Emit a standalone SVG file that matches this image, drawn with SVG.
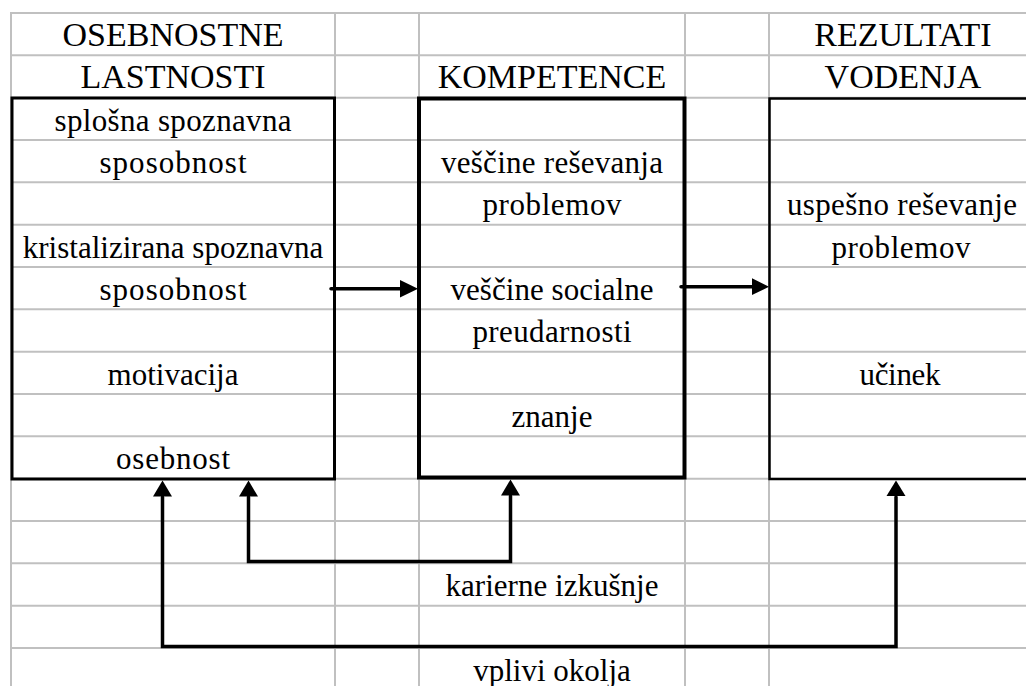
<svg xmlns="http://www.w3.org/2000/svg" width="1026" height="686" viewBox="0 0 1026 686">
<style>
.grid line{stroke:#c0c0c0;stroke-width:2}
.box{fill:none;stroke:#000}
text{font-family:"Liberation Serif","Times New Roman",serif;font-size:31px;fill:#000;text-anchor:middle}
text.cap{font-size:34px}
.conn path,.conn line{fill:none;stroke:#000;stroke-width:3.5;stroke-linecap:round;stroke-linejoin:miter}
.conn polygon{fill:#000;stroke:none}
</style>
<rect width="1026" height="686" fill="#fff"/>
<g class="grid">
<line x1="11" y1="13" x2="1026" y2="13"/>
<line x1="11" y1="55.33" x2="1026" y2="55.33"/>
<line x1="11" y1="97.67" x2="1026" y2="97.67"/>
<line x1="11" y1="140" x2="1026" y2="140"/>
<line x1="11" y1="182.33" x2="1026" y2="182.33"/>
<line x1="11" y1="224.67" x2="1026" y2="224.67"/>
<line x1="11" y1="267" x2="1026" y2="267"/>
<line x1="11" y1="309.33" x2="1026" y2="309.33"/>
<line x1="11" y1="351.67" x2="1026" y2="351.67"/>
<line x1="11" y1="394" x2="1026" y2="394"/>
<line x1="11" y1="436.33" x2="1026" y2="436.33"/>
<line x1="11" y1="478.67" x2="1026" y2="478.67"/>
<line x1="11" y1="521" x2="1026" y2="521"/>
<line x1="11" y1="563.33" x2="1026" y2="563.33"/>
<line x1="11" y1="605.67" x2="1026" y2="605.67"/>
<line x1="11" y1="648" x2="1026" y2="648"/>
<line x1="11" y1="12" x2="11" y2="686"/>
<line x1="335" y1="12" x2="335" y2="686"/>
<line x1="419" y1="12" x2="419" y2="686"/>
<line x1="685" y1="12" x2="685" y2="686"/>
<line x1="769" y1="12" x2="769" y2="686"/>
</g>
<g id="headers">
<text class="cap" x="173" y="45.8">OSEBNOSTNE</text>
<text class="cap" x="173" y="88.2">LASTNOSTI</text>
<text class="cap" x="552" y="88.2">KOMPETENCE</text>
<text class="cap" x="903" y="45.8">REZULTATI</text>
<text class="cap" x="903" y="88.2">VODENJA</text>
</g>
<g id="osebnostne-lastnosti">
<rect class="box" x="12" y="98" width="322.5" height="381" stroke-width="3"/>
<text x="173" y="130.5" textLength="237">splošna spoznavna</text>
<text x="173" y="172.8" textLength="147">sposobnost</text>
<text x="173" y="257.5">kristalizirana spoznavna</text>
<text x="173" y="299.8" textLength="147">sposobnost</text>
<text x="173" y="384.5">motivacija</text>
<text x="173" y="469.2" textLength="114">osebnost</text>
</g>
<g id="kompetence">
<rect class="box" x="419" y="98.5" width="265.5" height="379" stroke-width="4"/>
<text x="552" y="172.8" textLength="222">veščine reševanja</text>
<text x="552" y="215.2" textLength="139">problemov</text>
<text x="552" y="299.8" textLength="203">veščine socialne</text>
<text x="552" y="342.2" textLength="159">preudarnosti</text>
<text x="552" y="426.8">znanje</text>
</g>
<g id="rezultati-vodenja">
<path class="box" d="M1030 98.5H769.5V479H1030" stroke-width="2.5"/>
<text x="902" y="215.2" textLength="230">uspešno reševanje</text>
<text x="901" y="257.5" textLength="139">problemov</text>
<text x="900" y="384.5" textLength="81">učinek</text>
</g>
<g id="karierne-izkusnje">
<text x="552" y="596.2" textLength="213">karierne izkušnje</text>
</g>
<g id="vplivi-okolja">
<text x="552" y="680.8">vplivi okolja</text>
</g>
<g class="conn" id="connectors">
<line x1="331" y1="288.7" x2="402" y2="288.7"/>
<polygon points="400,280 418,288.7 400,297.4"/>
<line x1="681" y1="286.7" x2="754" y2="286.7"/>
<polygon points="752,278.3 769,286.7 752,295.1"/>
<path d="M162.5 497V646.5H896V497"/>
<polygon points="153,496.5 162.5,480.5 172,496.5"/>
<polygon points="886.5,496 896,480.5 905.5,496"/>
<path d="M248.5 497V561.5H510.5V496"/>
<polygon points="239,496.5 248.5,480.5 258,496.5"/>
<polygon points="501,495.5 510.5,479.5 520,495.5"/>
</g>
</svg>
